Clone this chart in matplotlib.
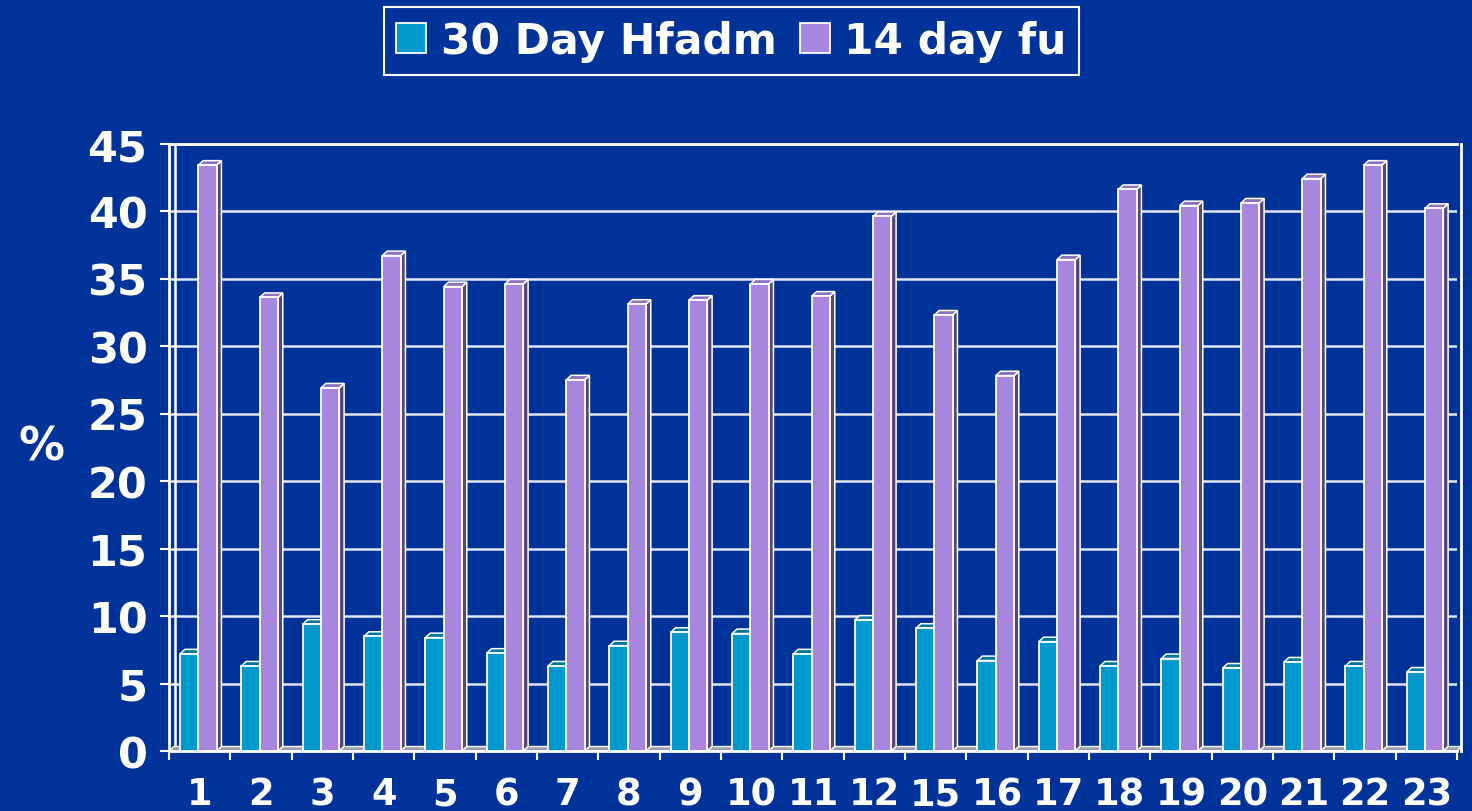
import matplotlib
matplotlib.use('Agg')
import matplotlib.pyplot as plt
from matplotlib.patches import Polygon
from matplotlib.lines import Line2D
import matplotlib.transforms as mtransforms
import numpy as np

# ---- data ----
categories = ['1', '2', '3', '4', '5', '6', '7', '8', '9', '10', '11', '12',
              '15', '16', '17', '18', '19', '20', '21', '22', '23']
hfadm_30day = [7.2, 6.3, 9.4, 8.5, 8.4, 7.25, 6.3, 7.8, 8.8, 8.7, 7.2, 9.7,
               9.1, 6.7, 8.1, 6.3, 6.85, 6.15, 6.6, 6.3, 5.85]
fu_14day = [43.4, 33.6, 26.9, 36.7, 34.4, 34.6, 27.5, 33.1, 33.4, 34.6, 33.7, 39.6,
            32.3, 27.8, 36.4, 41.6, 40.4, 40.6, 42.4, 43.4, 40.2]
series_names = ['30 Day Hfadm', '14 day fu']
y_ticks = [0, 5, 10, 15, 20, 25, 30, 35, 40, 45]
y_label = '%'

# ---- style ----
BG = '#003399'
front_cols = ['#0099CC', '#A886DD']
top_cols = ['#00789E', '#8C72BE']
side_cols = ['#005A7A', '#554678']

plt.rcParams['font.family'] = ['DejaVu Sans']
plt.rcParams['font.weight'] = 'bold'

W, H = 1472, 812
fig = plt.figure(figsize=(W / 100, H / 100), dpi=100, facecolor=BG)

ax = fig.add_axes([169 / W, 60 / H, 1288 / W, 607.5 / H])
ax.set_facecolor(BG)

n = len(categories)
x = np.arange(n)
ax.set_xlim(-0.5, n - 0.5)
ax.set_ylim(0, 45)

width = 0.298
offsets = [-0.170, 0.128]
dx = 0.078   # depth in x (data units)
dy = 0.33    # depth in y (data units)

# gridlines
ax.set_yticks(y_ticks)
ax.yaxis.grid(True, color='#e4e6f2', lw=1.8, zorder=1)
ax.set_axisbelow(True)

# floor shelf
floor = Polygon([(-0.5, 0), (n - 0.5, 0), (n - 0.5 + dx, dy), (-0.5 + dx, dy)],
                closed=True, facecolor='#9c9cae', edgecolor='white', lw=1.0,
                zorder=2, clip_on=False)
ax.add_patch(floor)

for s, (vals, name) in enumerate(zip([hfadm_30day, fu_14day], series_names)):
    z = 3 + 2 * s
    bars = ax.bar(x + offsets[s], vals, width=width, color=front_cols[s],
                  edgecolor='white', linewidth=1.3, label=name, zorder=z + 1)
    for rect in bars:
        x0 = rect.get_x()
        x1 = x0 + rect.get_width()
        h = rect.get_height()
        side = Polygon([(x1, 0), (x1 + dx, dy), (x1 + dx, h + dy), (x1, h)],
                       closed=True, facecolor=side_cols[s], edgecolor='white',
                       lw=1.1, zorder=z, clip_on=False)
        top = Polygon([(x0, h), (x0 + dx, h + dy), (x1 + dx, h + dy), (x1, h)],
                      closed=True, facecolor=top_cols[s], edgecolor='white',
                      lw=1.1, zorder=z, clip_on=False)
        ax.add_patch(side)
        ax.add_patch(top)

# spines
for key in ['left', 'bottom', 'top', 'right']:
    ax.spines[key].set_color('white')
    ax.spines[key].set_linewidth(2)
ax.spines['right'].set_position(('outward', 3))

# back-wall vertical line (3D look)
wall = Line2D([0, 0], [0, 1], color='white', lw=1.8,
              transform=ax.transAxes + mtransforms.ScaledTranslation(6 / 100, 0, fig.dpi_scale_trans),
              zorder=1.5)
ax.add_line(wall)

# ticks
ax.tick_params(axis='y', colors='white', length=6.5, width=1.5, pad=9.0,
               labelsize=31)
ax.set_xticks(x)
ax.set_xticklabels(categories)
ax.set_xticks(np.arange(-0.5, n), minor=True)
ax.tick_params(axis='x', which='major', length=0, pad=17.5, labelsize=26.5,
               labelcolor='white')
ax.tick_params(axis='x', which='minor', length=6.5, width=1.5, color='white')
for lab in ax.get_xticklabels() + ax.get_yticklabels():
    lab.set_fontweight('bold')

fig.text(41 / W, 1 - 448 / H, y_label, color='white', fontsize=33,
         fontweight='bold', ha='center', va='center')

leg = fig.legend(loc='center', bbox_to_anchor=(731.5 / W, 1 - 42 / H), ncol=2,
                 frameon=True, facecolor=BG, edgecolor='white', fontsize=30.5,
                 handlelength=0.7, handleheight=0.72, handletextpad=0.35,
                 columnspacing=0.55, borderpad=0.3, borderaxespad=0,
                 fancybox=False, framealpha=1)
leg.get_frame().set_linewidth(1.5)
for t in leg.get_texts():
    t.set_color('white')
    t.set_fontweight('bold')

fig.savefig('out.png', dpi=100, facecolor=BG)
